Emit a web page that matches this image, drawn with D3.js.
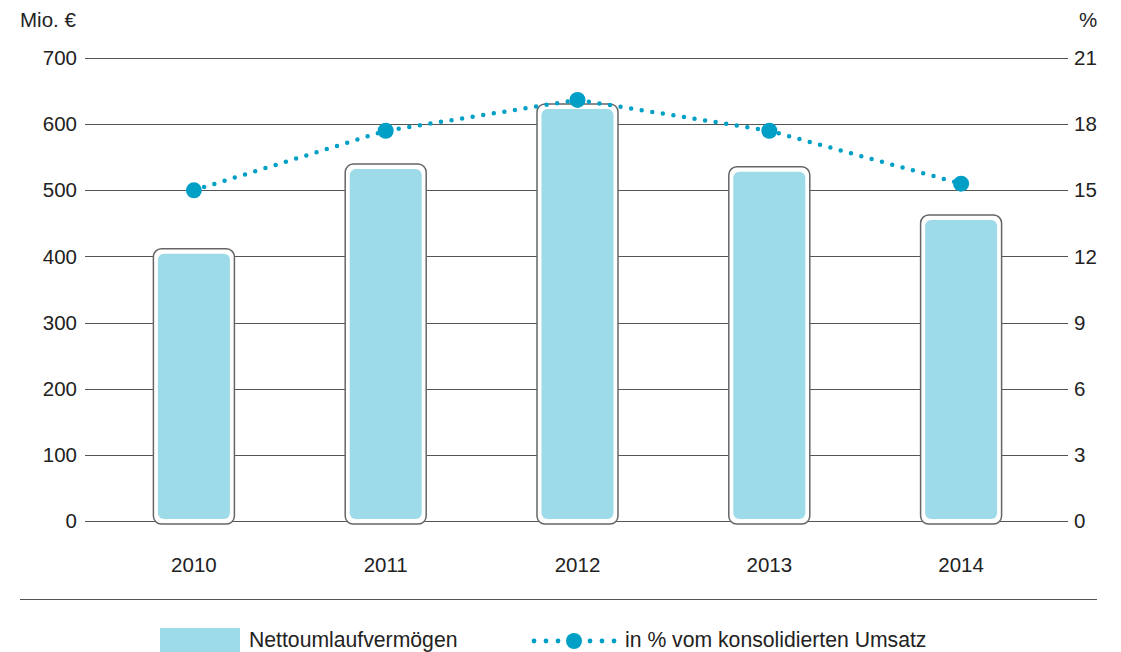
<!DOCTYPE html>
<html>
<head>
<meta charset="utf-8">
<script src="https://cdn.jsdelivr.net/npm/d3@7"></script>
<style>
  body { margin: 0; background: #fff; }
  svg { display: block; font-family: "Liberation Sans", Arial, sans-serif; }
</style>
</head>
<body>
<svg id="chart" width="1121" height="652"></svg>
<script>
// Net working capital (Mio. €) and share of consolidated sales (%)
const years = ["2010", "2011", "2012", "2013", "2014"];
const netWorkingCapital = [404, 532, 623, 528, 455];
const shareOfSales = [15.0, 17.7, 19.1, 17.7, 15.3];
const leftTicks = [0, 100, 200, 300, 400, 500, 600, 700];
const rightTicks = [0, 3, 6, 9, 12, 15, 18, 21];

const barColor = "#9ddbe8";
const lineColor = "#00a0c6";
const gridColor = "#555";
const textColor = "#222";
const fs = 20.5;

const svg = d3.select("#chart");

const x = d3.scaleBand().domain(years).range([98, 1057]).padding(0);
const yL = d3.scaleLinear().domain([0, 700]).range([521, 58]);
const yR = d3.scaleLinear().domain([0, 21]).range([521, 58]);

// Gridlines
svg.append("g").selectAll("line").data(leftTicks).join("line")
  .attr("x1", 85).attr("x2", 1068)
  .attr("y1", d => Math.round(yL(d)) + 0.5).attr("y2", d => Math.round(yL(d)) + 0.5)
  .attr("stroke", gridColor).attr("stroke-width", 1);

// Axis labels, left (Mio. €) and right (%)
svg.append("g").selectAll("text").data(leftTicks).join("text")
  .attr("x", 77).attr("y", d => yL(d)).attr("dy", "0.35em")
  .attr("text-anchor", "end").attr("font-size", fs).attr("fill", textColor)
  .text(d => d);

svg.append("g").selectAll("text").data(rightTicks).join("text")
  .attr("x", 1074).attr("y", d => yR(d)).attr("dy", "0.35em")
  .attr("text-anchor", "start").attr("font-size", fs).attr("fill", textColor)
  .text(d => d);

svg.append("text").attr("x", 20).attr("y", 27).attr("font-size", fs).attr("fill", textColor).text("Mio. €");
svg.append("text").attr("x", 1079).attr("y", 27).attr("font-size", fs).attr("fill", textColor).text("%");

// Bars: white framed box with rounded fill inside
const cx = d => x(d) + x.bandwidth() / 2;
const innerW = 72, pad = 5;
const bars = svg.append("g").selectAll("g")
  .data(years.map((y, i) => ({ year: y, v: netWorkingCapital[i] }))).join("g");
bars.append("rect")
  .attr("x", d => cx(d.year) - innerW / 2 - pad + 0.5)
  .attr("y", d => yL(d.v) - pad)
  .attr("width", innerW + 2 * pad - 1)
  .attr("height", d => yL(0) + 3 - (yL(d.v) - pad))
  .attr("rx", 8)
  .attr("fill", "#fff").attr("stroke", "#666").attr("stroke-width", 1.5);
bars.append("rect")
  .attr("x", d => cx(d.year) - innerW / 2)
  .attr("y", d => yL(d.v))
  .attr("width", innerW)
  .attr("height", d => yL(0) - 2 - yL(d.v))
  .attr("rx", 6)
  .attr("fill", barColor);

// Year labels
svg.append("g").selectAll("text").data(years).join("text")
  .attr("x", d => cx(d)).attr("y", 565).attr("dy", "0.35em")
  .attr("text-anchor", "middle").attr("font-size", fs).attr("fill", textColor)
  .text(d => d);

// Dotted line for share of sales
const pts = years.map((y, i) => [cx(y), yR(shareOfSales[i])]);
svg.append("path")
  .attr("d", d3.line()(pts))
  .attr("fill", "none").attr("stroke", lineColor)
  .attr("stroke-width", 4.5).attr("stroke-linecap", "round")
  .attr("stroke-dasharray", "0,10.7");
svg.append("g").selectAll("circle").data(pts).join("circle")
  .attr("cx", d => d[0]).attr("cy", d => d[1]).attr("r", 8)
  .attr("fill", lineColor);

// Separator
svg.append("line").attr("x1", 20).attr("x2", 1097).attr("y1", 599.5).attr("y2", 599.5)
  .attr("stroke", gridColor).attr("stroke-width", 1);

// Legend
svg.append("rect").attr("x", 160).attr("y", 628).attr("width", 80).attr("height", 24).attr("fill", barColor);
svg.append("text").attr("x", 249).attr("y", 640).attr("dy", "0.35em").attr("font-size", 21.2).attr("fill", textColor)
  .text("Nettoumlaufvermögen");
const legDots = [534, 546, 558, 590, 602, 614];
svg.append("g").selectAll("circle").data(legDots).join("circle")
  .attr("cx", d => d).attr("cy", 641).attr("r", 2.4).attr("fill", lineColor);
svg.append("circle").attr("cx", 574).attr("cy", 641).attr("r", 8).attr("fill", lineColor);
svg.append("text").attr("x", 625).attr("y", 640).attr("dy", "0.35em").attr("font-size", 21.2).attr("fill", textColor)
  .text("in % vom konsolidierten Umsatz");
</script>
</body>
</html>
